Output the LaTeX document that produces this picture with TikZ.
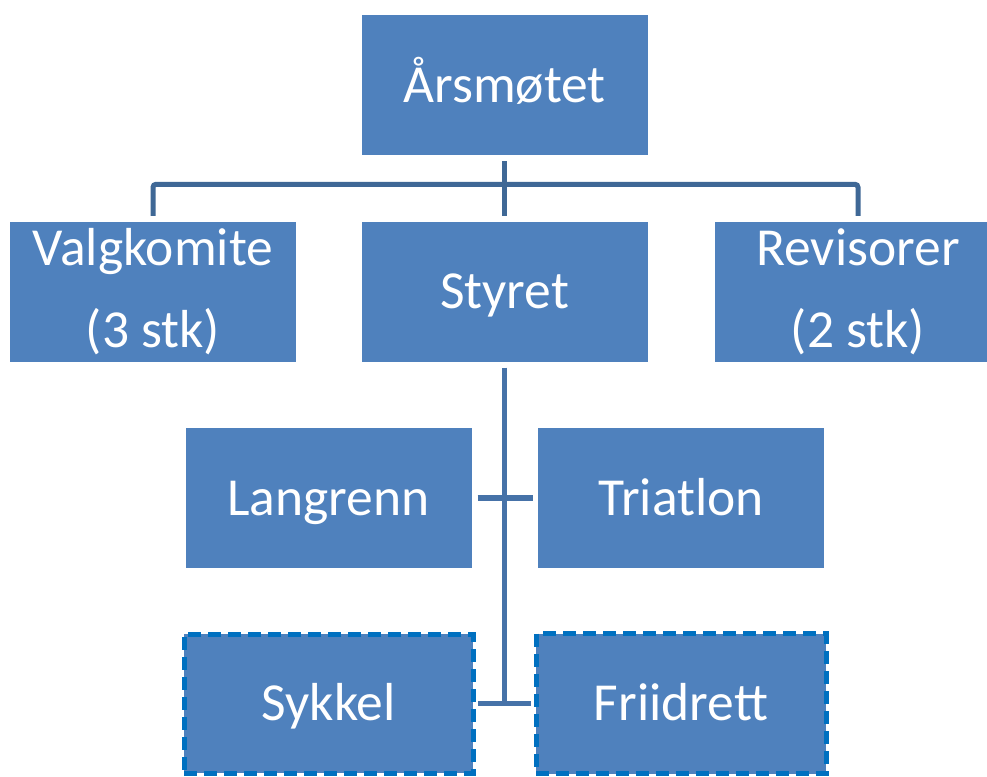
\documentclass[tikz,border=0pt]{standalone}
\usepackage{fontspec}
\setmainfont{Carlito}
\definecolor{boxfill}{HTML}{4F81BD}
\definecolor{topline}{HTML}{3F6896}
\definecolor{lowline}{HTML}{4672A8}
\definecolor{dashblue}{HTML}{0070C0}
\begin{document}
\begin{tikzpicture}[x=1pt,y=-1pt,
  orgbox/.style={fill=boxfill, draw=none, text=white, inner sep=0pt,
    minimum width=286pt, minimum height=140pt, align=center,
    font=\fontsize{53.5}{82}\selectfont},
  oneline/.style={text height=34pt, text depth=0pt},
  dashbox/.style={orgbox, oneline, draw=dashblue, line width=5pt, dash pattern=on 13pt off 7pt,
    minimum width=290pt, minimum height=140pt},
  topconn/.style={draw=topline, line width=5pt},
  lowconn/.style={draw=lowline, line width=5.5pt}]
\useasboundingbox (0,0) rectangle (987,776);
\clip (0,0) rectangle (987,776);
\fill[white] (0,0) rectangle (987,776);

\node[orgbox, oneline] (ars) at (504.5,85) {Årsmøtet};
\node[orgbox] (valg) at (153,291.5) {Valgkomite\\(3 stk)};
\node[orgbox, oneline] (styret) at (504.5,291.5) {Styret};
\node[orgbox] (revis) at (858,291.5) {Revisorer\\(2 stk)};
\node[orgbox, oneline] (lang) at (328.5,498) {Langrenn};
\node[orgbox, oneline] (tri) at (681,498) {Triatlon};
\node[dashbox, minimum width=289pt, minimum height=139pt] (syk) at (328.5,703.5) {Sykkel};
\node[dashbox] (fri) at (681,703.5) {Friidrett};

% top connectors
\draw[topconn] ([yshift=-6pt]ars.south) -- ([yshift=5.5pt]styret.north);
\draw[topconn, rounded corners=3pt] ([yshift=5.5pt]valg.north) -- ++(0pt,31.5pt) -| ([yshift=5.5pt]revis.north);

% lower connectors
\coordinate (bottomjoin) at (styret.south |- syk.east);
\draw[lowconn] ([yshift=-6pt]styret.south) -- ([yshift=-2.5pt]bottomjoin);
\draw[lowconn] ([xshift=6pt]lang.east) -- ([xshift=-5pt]tri.west);
\draw[lowconn] ([xshift=2.5pt]syk.east) -- ([xshift=-2.5pt]fri.west);
\end{tikzpicture}
\end{document}
